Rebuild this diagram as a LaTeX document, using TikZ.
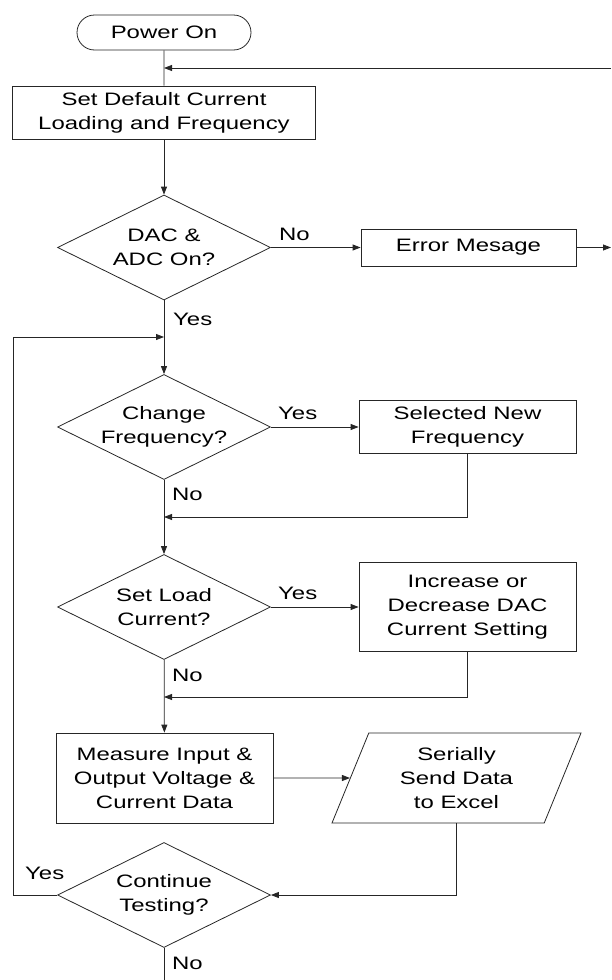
\documentclass[tikz,border=0pt]{standalone}
\usepackage{fontspec}
\setmainfont[FakeStretch=1.33]{Liberation Sans}
\usetikzlibrary{positioning,arrows.meta,shapes.geometric,shapes.misc}

\tikzset{
  box/.style={draw=black!85, line width=0.8pt, align=center, inner sep=0pt},
  term/.style={box, rounded rectangle, minimum width=174pt, minimum height=35pt},
  proc/.style={box, rectangle, minimum width=217pt},
  decide/.style={box, diamond, aspect=2, minimum width=213pt, minimum height=105pt},
  inout/.style={box, trapezium, trapezium left angle=59, trapezium right angle=121,
    trapezium stretches body, minimum width=249pt, minimum height=90pt},
  flow/.style={draw=black!85, line width=0.8pt, -{Triangle[length=8pt,width=6pt]}},
  line/.style={draw=black!85, line width=0.8pt},
  lbl/.style={anchor=west, inner sep=0pt}
}

\begin{document}
\begin{tikzpicture}[x=1pt,y=-1pt,every node/.style={font=\fontsize{18}{24}\selectfont}]
  \useasboundingbox (0,0) rectangle (611,980);
  % main column
  \node[term] (pwr) at (164,32.5) {Power On};
  \node[proc, minimum width=303pt, minimum height=53pt] (dflt) at (164,112.5)
    {Set Default Current\\Loading and Frequency};
  \node[decide] (dac) at (164,247.5) {DAC \&\\ADC On?};
  \node[decide] (frq) at (164,427) {Change\\Frequency?};
  \node[decide] (load) at (164,607) {Set Load\\Current?};
  \node[proc, minimum height=90pt] (meas) at (164.5,778)
    {Measure Input \&\\Output Voltage \&\\Current Data};
  \node[decide] (cont) at (164,895) {Continue\\Testing?};
  % right column
  \node[proc, minimum width=215pt, minimum height=37pt] (err) at (468.5,247.5) {Error Mesage};
  \node[proc, minimum height=53pt] (newf) at (467.5,427) {Selected New\\Frequency};
  \node[proc, minimum height=89pt] (incr) at (467.5,607) {Increase or\\Decrease DAC\\Current Setting};
  \node[inout] (ser) at (456.5,778) {Serially\\Send Data\\to Excel};
  % joints
  \coordinate (jtop) at (164,68);
  \coordinate (rtop) at (611,68);
  \coordinate (rerr) at (611,247.5);
  \coordinate (jloop) at (164,337);
  \coordinate (jfrq) at (164,517);
  \coordinate (jload) at (164,697);
  \coordinate (bot) at (164,980);
  % connectors
  \draw[line] (pwr) -- (dflt);
  \draw[flow] (rtop) -- (jtop);
  \draw[flow] (dflt) -- (dac);
  \draw[flow] (dac) -- (err);
  \draw[flow] (err) -- (rerr);
  \draw[flow] (dac) -- (frq);
  \draw[flow] (frq) -- (newf);
  \draw[flow] (newf.south) |- (jfrq);
  \draw[flow] (frq) -- (load);
  \draw[flow] (load) -- (incr);
  \draw[flow] (incr.south) |- (jload);
  \draw[flow] (load) -- (meas);
  \draw[flow] (meas.east) -- (ser.west);
  \draw[flow] (ser.south) |- (cont.east);
  \draw[flow] (cont.west) -- (13,895) |- (jloop);
  \draw[line] (cont) -- (bot);
  % branch labels
  \node[lbl] (noDac) at (279,234) {No};
  \node[lbl] (yesDac) at (173,319) {Yes};
  \node[lbl] (yesFrq) at (278,413) {Yes};
  \node[lbl] (noFrq) at (172,494) {No};
  \node[lbl] (yesLoad) at (278,593) {Yes};
  \node[lbl] (noLoad) at (172,675) {No};
  \node[lbl] (yesCont) at (25,873) {Yes};
  \node[lbl] (noCont) at (172,963) {No};
\end{tikzpicture}
\end{document}
